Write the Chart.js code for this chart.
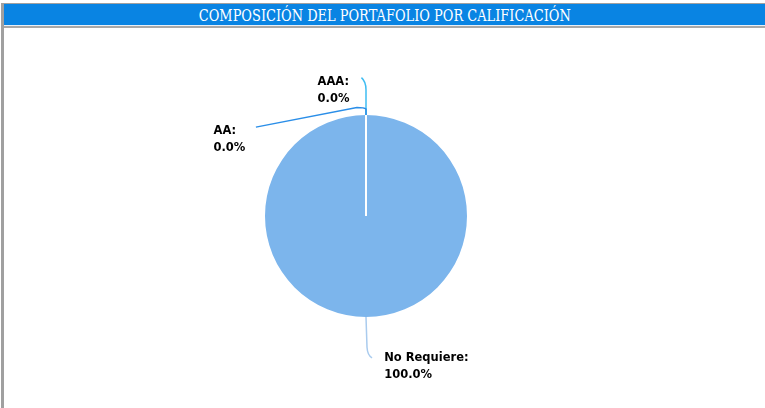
<!DOCTYPE html>
<html>
<head>
<meta charset="utf-8">
<script src="https://cdn.jsdelivr.net/npm/chart.js@4.4.1/dist/chart.umd.min.js"></script>
<style>
  html, body { margin: 0; padding: 0; background: #fff; width: 765px; height: 408px; overflow: hidden; }
  #frame { position: absolute; left: 1px; top: 3px; width: 764px; height: 405px; border-top: 1px solid #a0a0a0; border-left: 3px solid #a0a0a0; box-sizing: border-box; }
  #title { position: absolute; left: 0; top: 0; width: 761px; height: 21px; background: #0984e3; border-bottom: 1px solid #e8f0f8; box-sizing: content-box; text-align: center; overflow: hidden; }
  #titleline { position: absolute; left: 0; top: 22px; width: 761px; height: 2px; background: #a8a8a8; }
  #title span { display: inline-block; color: #fff; font-family: "DejaVu Serif", "Liberation Serif", serif; font-size: 17px; line-height: 22px; white-space: nowrap; transform-origin: center; }
  #wrap { position: absolute; left: 4px; top: 28px; width: 761px; height: 380px; }
</style>
</head>
<body>
<div id="frame">
  <div id="title"><span id="tt">COMPOSICIÓN DEL PORTAFOLIO POR CALIFICACIÓN</span></div>
  <div id="titleline"></div>
</div>
<div id="wrap"><canvas id="c"></canvas></div>
<script>
const categories = ['AAA', 'AA', 'No Requiere'];
const values = [0, 0, 100];
const sliceColors = ['#3fbdf2', '#2a8ee8', '#7cb5ec'];
const connectorColors = ['#3fbdf2', '#2a8ee8', '#a9cbee'];

// fit title width
(function () {
  const s = document.getElementById('tt');
  const w = s.getBoundingClientRect().width;
  s.style.transform = 'scaleX(' + (372 / w) + ')';
})();

const total = values.reduce((a, b) => a + b, 0);

const labelPlugin = {
  id: 'pieLabels',
  afterDatasetsDraw(chart) {
    const ctx = chart.ctx;
    const meta = chart.getDatasetMeta(0);
    const big = meta.data[2];
    const cx = big.x, cy = big.y, r = big.outerRadius;
    ctx.save();
    // white slice boundary from centre to top (zero-width slices)
    const a0 = meta.data[0].startAngle;
    ctx.strokeStyle = '#ffffff';
    ctx.lineWidth = 2;
    ctx.beginPath();
    ctx.moveTo(cx, cy);
    ctx.lineTo(cx + Math.cos(a0) * r, cy + Math.sin(a0) * r);
    ctx.stroke();

    const topX = cx + Math.cos(a0) * r, topY = cy + Math.sin(a0) * r;
    ctx.lineWidth = 1.5;
    // AAA connector
    ctx.strokeStyle = connectorColors[0];
    ctx.beginPath();
    ctx.moveTo(topX, topY);
    ctx.lineTo(topX, topY - r * 0.25);
    ctx.quadraticCurveTo(topX, topY - r * 0.33, topX - r * 0.045, topY - r * 0.37);
    ctx.stroke();
    // AA connector
    ctx.strokeStyle = connectorColors[1];
    ctx.beginPath();
    ctx.moveTo(topX, topY);
    ctx.lineTo(topX, topY - r * 0.06);
    ctx.quadraticCurveTo(topX - r * 0.015, topY - r * 0.075, topX - r * 0.09, topY - r * 0.075);
    ctx.lineTo(topX - r * 1.09, topY + r * 0.12);
    ctx.stroke();
    // No Requiere connector
    const botY = cy + r;
    ctx.strokeStyle = connectorColors[2];
    ctx.beginPath();
    ctx.moveTo(cx, botY);
    ctx.lineTo(cx + 1, botY + r * 0.3);
    ctx.quadraticCurveTo(cx + 1.5, botY + r * 0.38, cx + r * 0.06, botY + r * 0.405);
    ctx.stroke();

    ctx.fillStyle = '#000';
    ctx.font = 'bold 11.5px "DejaVu Sans", sans-serif';
    ctx.textBaseline = 'alphabetic';
    ctx.textAlign = 'left';
    const pct = i => (values[i] / total * 100).toFixed(1) + '%';
    const pos = [
      [topX - r * 0.48, topY - r * 0.30],
      [topX - r * 1.51, topY + r * 0.19],
      [cx + r * 0.18, botY + r * 0.44]
    ];
    for (let i = 0; i < categories.length; i++) {
      const [x, y] = pos[i];
      ctx.fillText(categories[i] + ':', x, y);
      ctx.fillText(pct(i), x, y + 17);
    }
    ctx.restore();
  }
};

new Chart(document.getElementById('c'), {
  type: 'pie',
  data: {
    labels: categories,
    datasets: [{ data: values, backgroundColor: sliceColors, borderWidth: 0, hoverOffset: 0 }]
  },
  options: {
    responsive: true,
    maintainAspectRatio: false,
    animation: false,
    layout: { padding: { left: 0, right: 37, top: 87, bottom: 91 } },
    plugins: { legend: { display: false }, tooltip: { enabled: false } }
  },
  plugins: [labelPlugin]
});
</script>
</body>
</html>
